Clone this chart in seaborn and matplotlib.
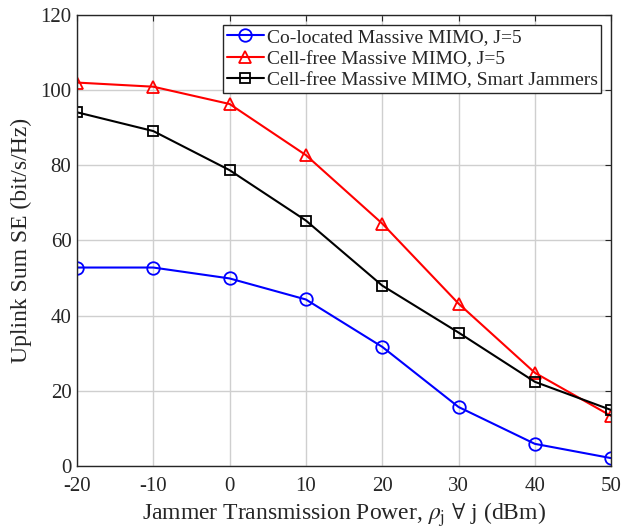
import matplotlib
matplotlib.use("Agg")
import matplotlib.pyplot as plt
import seaborn as sns
import pandas as pd

# data
power = [-20, -10, 0, 10, 20, 30, 40, 50]
colocated = [52.8, 52.8, 49.9, 44.3, 31.7, 15.7, 5.9, 2.1]
cellfree = [102.0, 100.9, 96.3, 82.7, 64.5, 43.2, 24.8, 13.3]
smart = [94.1, 89.1, 78.7, 65.3, 48.0, 35.5, 22.4, 14.9]

names = ["Co-located Massive MIMO, J=5",
         "Cell-free Massive MIMO, J=5",
         "Cell-free Massive MIMO, Smart Jammers"]
colors = ["#0000ff", "#ff0000", "#000000"]
markers = ["o", "^", "s"]

df = pd.DataFrame({
    "power": power * 3,
    "se": colocated + cellfree + smart,
    "scheme": [names[0]] * 8 + [names[1]] * 8 + [names[2]] * 8,
})

sns.set_style("whitegrid")
plt.rcParams["font.family"] = ["Liberation Serif", "DejaVu Serif"]
plt.rcParams["mathtext.fontset"] = "stix"

fig = plt.figure(figsize=(6.36, 5.32), dpi=100)
ax = fig.add_axes([0.121, 0.124, 0.840, 0.848])

for name, c, m in zip(names, colors, markers):
    sub = df[df["scheme"] == name]
    sns.lineplot(data=sub, x="power", y="se", ax=ax, color=c, marker=m,
                 markersize=9 if m != "s" else 7, markerfacecolor="none",
                 markeredgecolor=c, markeredgewidth=1.3, linewidth=1.5,
                 label=name)

ax.set_xlim(-20, 50)
ax.set_ylim(0, 120)
ax.set_xticks(power)
ax.set_xticklabels([str(p) for p in power])
ax.set_yticks([0, 20, 40, 60, 80, 100, 120])
ax.tick_params(labelsize=15, colors="#262626", length=4, direction="in",
               top=True, right=True)
ax.tick_params(axis="x", pad=8)
ax.tick_params(axis="y", pad=4)
ax.grid(True, color="#cfcfcf", linewidth=1.0)
for s in ax.spines.values():
    s.set_color("#262626")
    s.set_linewidth(1.0)

ax.set_xlabel(r"Jammer Transmission Power, $\rho_{\rm j}$ $\forall$ j (dBm)",
              fontsize=17, color="#262626", labelpad=3)
ax.set_ylabel("Uplink Sum SE (bit/s/Hz)", fontsize=17, color="#262626", labelpad=6)

leg = ax.legend(loc="upper right", fontsize=14, frameon=True, fancybox=False,
                borderpad=0.2, labelspacing=0.2, handlelength=1.9,
                handletextpad=0.15, borderaxespad=0.5)
leg.get_frame().set_edgecolor("#262626")
leg.get_frame().set_linewidth(1.0)
leg.get_frame().set_alpha(1)

fig.savefig("out.png", dpi=100)
